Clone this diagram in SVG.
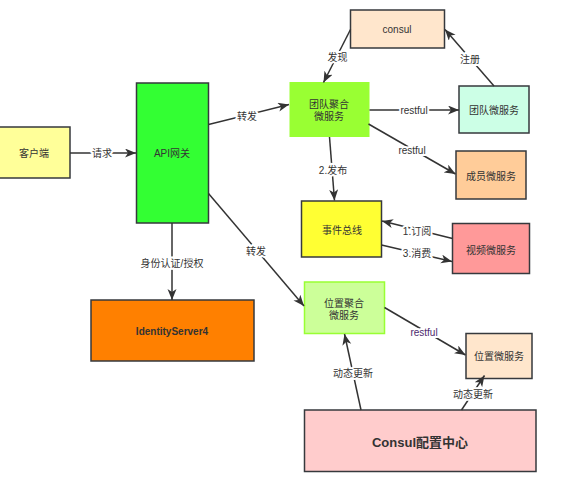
<svg xmlns="http://www.w3.org/2000/svg" width="583" height="492" viewBox="0 0 583 492">
<style>
text{font-family:"Liberation Sans","Noto Sans CJK SC",sans-serif;font-size:10px;fill:#333;text-anchor:middle;dominant-baseline:central}
.box{stroke:#36393d;stroke-width:1.5}
.lbl{paint-order:stroke;stroke:#fff;stroke-width:4px;stroke-linejoin:round}
.edge{fill:none;stroke:#333;stroke-width:1.5;marker-end:url(#ah)}
.b{font-weight:bold}
</style>
<defs>
<marker id="ah" markerUnits="userSpaceOnUse" markerWidth="12" markerHeight="10" refX="11" refY="4.5" orient="auto">
<path d="M0,0 L11,4.5 L0,9 L3,4.5 Z" fill="#333"/>
</marker>
</defs>
<rect width="583" height="492" fill="#fff"/>
<g id="client"><rect class="box" x="-5" y="127" width="75" height="51" fill="#FFFF99" stroke="#666"/><text x="34" y="153">客户端</text></g>
<g id="api"><rect class="box" x="136.5" y="83" width="72" height="140" fill="#33FF33"/><text x="172" y="153">API网关</text></g>
<g id="teamagg"><rect x="289.5" y="82" width="80" height="55" fill="#99FF33"/><text x="329" y="104">团队聚合</text><text x="329" y="116">微服务</text></g>
<g id="consul"><rect class="box" x="350.5" y="10" width="94" height="38" fill="#FFE6CC" stroke="#888"/><text x="397" y="29.5">consul</text></g>
<g id="teamsvc"><rect class="box" x="459" y="86" width="70" height="47" fill="#CCFFE6"/><text x="494" y="110.5">团队微服务</text></g>
<g id="membersvc"><rect class="box" x="456" y="151" width="70" height="48" fill="#FFCC99"/><text x="491" y="176">成员微服务</text></g>
<g id="eventbus"><rect class="box" x="301.5" y="201" width="80" height="56" fill="#FFFF33"/><text x="342" y="230">事件总线</text></g>
<g id="videosvc"><rect class="box" x="452.5" y="223.5" width="77" height="50" fill="#FF9999"/><text x="491" y="250">视频微服务</text></g>
<g id="locagg"><rect x="304.5" y="282" width="80" height="51.5" fill="#CCFF99" stroke="#99FF33" stroke-width="1.5"/><text x="344" y="303">位置聚合</text><text x="344" y="315">微服务</text></g>
<g id="identity"><rect class="box" x="91" y="300" width="163" height="61" fill="#FF8000" stroke="#666"/><text class="b" x="172" y="331">IdentityServer4</text></g>
<g id="locsvc"><rect class="box" x="466" y="333.5" width="66" height="45" fill="#FFE6CC"/><text x="499" y="356">位置微服务</text></g>
<g id="consulcfg"><rect class="box" x="304.5" y="410" width="231.5" height="61.5" fill="#FFCCCC" stroke="#888"/><text class="b" x="420" y="442" style="font-size:13px">Consul配置中心</text></g>
<g id="connectors">
<path class="edge" d="M70,153 L136,153"/>
<path class="edge" d="M208.5,124.5 L289,104.5"/>
<path class="edge" d="M208.5,193.5 L304,306"/>
<path class="edge" d="M172,223 L172,300"/>
<path class="edge" d="M350.5,29.5 L323.5,82.5"/>
<path class="edge" d="M494,86 L445,29.5"/>
<path class="edge" d="M369.5,110 L459,110"/>
<path class="edge" d="M368.5,124 L455.5,174"/>
<path class="edge" d="M329.5,137 L334.5,200.5"/>
<path class="edge" d="M452.5,238.5 L382,221"/>
<path class="edge" d="M381.5,245 L452,261.5"/>
<path class="edge" d="M384.5,307.5 L465.5,355"/>
<path class="edge" d="M361,410 L344.5,334"/>
<path class="edge" d="M461.5,410 L484.5,375.5"/>
<text class="lbl" x="102" y="153">请求</text>
<text class="lbl" x="247" y="116">转发</text>
<text class="lbl" x="256" y="251">转发</text>
<text class="lbl" x="172" y="263">身份认证/授权</text>
<text class="lbl" x="337.5" y="57">发现</text>
<text class="lbl" x="470" y="59">注册</text>
<text class="lbl" x="414" y="110">restful</text>
<text class="lbl" x="412" y="150">restful</text>
<text class="lbl" x="333" y="170">2.发布</text>
<text class="lbl" x="417" y="231">1.订阅</text>
<text class="lbl" x="417" y="253">3.消费</text>
<text class="lbl" x="424" y="332.5" style="fill:#4d2a6e">restful</text>
<text class="lbl" x="353" y="373">动态更新</text>
<text class="lbl" x="473" y="394">动态更新</text>
</g>
</svg>
